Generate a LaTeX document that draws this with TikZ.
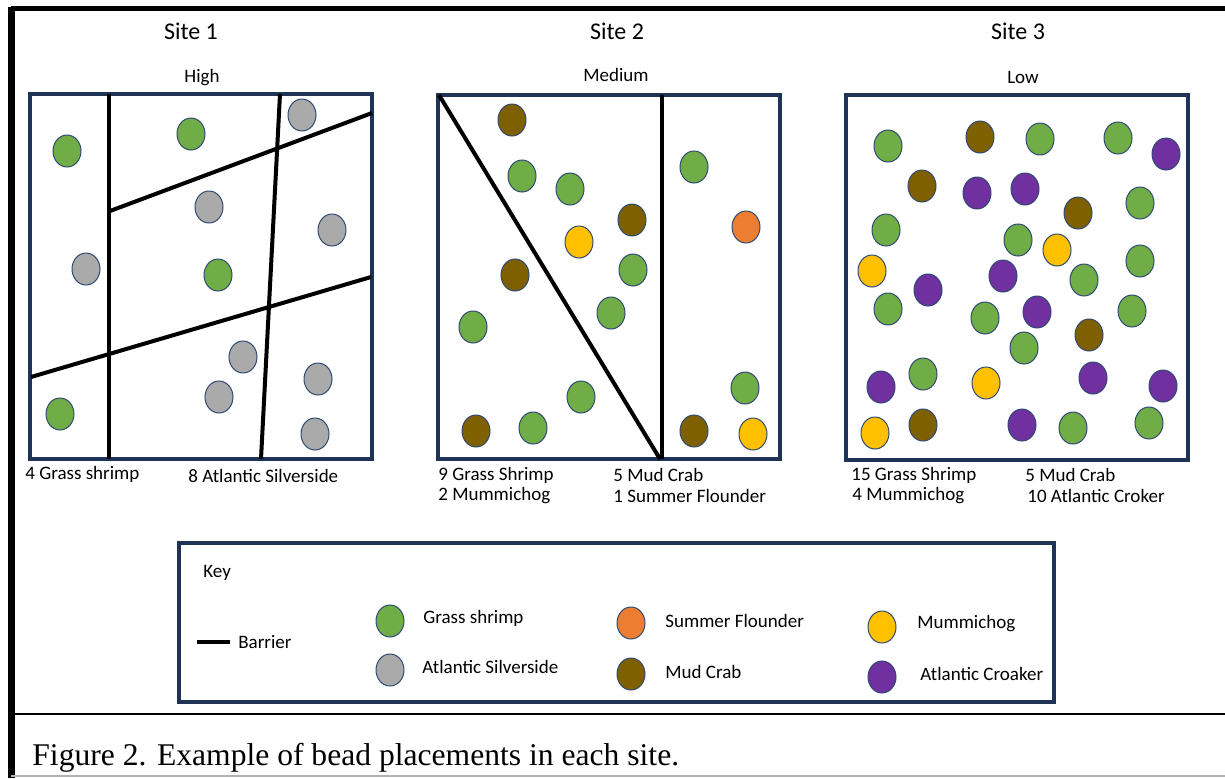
\documentclass[tikz,border=0pt]{standalone}
\usepackage{fontspec}
\setmainfont{Carlito}
\newfontfamily\capfont{Liberation Serif}
\usetikzlibrary{shapes.geometric}
\definecolor{navy}{HTML}{1F3356}
\definecolor{beadline}{HTML}{2F4A73}
\definecolor{grass}{HTML}{70AD47}
\definecolor{silverside}{HTML}{AAAAAA}
\definecolor{crab}{HTML}{7F6000}
\definecolor{flounder}{HTML}{ED7D31}
\definecolor{mummi}{HTML}{FFC000}
\definecolor{croaker}{HTML}{7030A0}

\begin{document}
\begin{tikzpicture}[x=0.5pt, y=-0.5pt,
  bead/.style={ellipse, draw=beadline, line width=0.5pt, minimum width=14pt, minimum height=16pt, inner sep=0pt},
  sitebox/.style={draw=navy, line width=1.6pt},
  keybox/.style={draw=navy, line width=2.2pt},
  barrier/.style={line width=2pt},
  sitename/.style={font=\fontsize{12}{14}\selectfont},
  grade/.style={font=\fontsize{9.5}{11}\selectfont},
  tally/.style={anchor=west, inner sep=0pt, font=\fontsize{9.5}{11}\selectfont},
  keytext/.style={anchor=west, inner sep=0pt, font=\fontsize{9.5}{11}\selectfont}]
  \useasboundingbox (0,0) rectangle (1225,778);
  \draw[line width=2.5pt] (11,8) -- (1225,8);
  \draw[line width=3.5pt] (11,6.75) -- (11,778);
  \draw[line width=1pt] (11,714) -- (1225,714);
  \draw[gray!60, line width=0.6pt] (11,776) -- (1225,776);
  \node[sitename] (site1) at (191,31) {Site 1};
  \node[sitename] (site2) at (617,31) {Site 2};
  \node[sitename] (site3) at (1018,31) {Site 3};
  \node[grade] (high) at (202,78) {High};
  \node[grade] (medium) at (616,75) {Medium};
  \node[grade] (low) at (1023,77) {Low};
  \draw[sitebox] (30,94) rectangle (372,459);
  \draw[sitebox] (438,95) rectangle (780,459);
  \draw[sitebox] (846,95) rectangle (1188,460);
  \draw[barrier] (109,94) -- (109,459);
  \draw[barrier] (280,94) -- (261,459);
  \draw[barrier] (110,211) -- (372,113);
  \draw[barrier] (31,377) -- (371,277);
  \draw[barrier] (439,95) -- (660,459);
  \draw[barrier] (662,95) -- (662,459);
  \foreach \x/\y [count=\i] in {67/151, 191/134, 218/275, 60/414}
    \node[bead, fill=grass] (s1g\i) at (\x,\y) {};
  \foreach \x/\y [count=\i] in {302/115, 209/207, 332/230, 86/269, 243/357, 219/397, 318/379, 315/434}
    \node[bead, fill=silverside] (s1s\i) at (\x,\y) {};
  \foreach \x/\y [count=\i] in {522/176, 570/189, 633/270, 611/313, 473/327, 581/397, 533/428, 694/167, 745/388}
    \node[bead, fill=grass] (s2g\i) at (\x,\y) {};
  \foreach \x/\y [count=\i] in {512/120, 632/220, 515/275, 476/431, 694/431}
    \node[bead, fill=crab] (s2c\i) at (\x,\y) {};
  \foreach \x/\y [count=\i] in {579/242, 753/434}
    \node[bead, fill=mummi] (s2m\i) at (\x,\y) {};
  \node[bead, fill=flounder] (s2f1) at (746,227) {};
  \foreach \x/\y [count=\i] in {888/146, 1040/139, 1118/138, 1140/203, 886/230, 1018/240, 1140/261, 1084/280,
      888/309, 985/318, 1132/311, 1024/348, 923/374, 1073/428, 1149/423}
    \node[bead, fill=grass] (s3g\i) at (\x,\y) {};
  \foreach \x/\y [count=\i] in {980/137, 922/186, 1078/213, 1089/335, 923/425}
    \node[bead, fill=crab] (s3c\i) at (\x,\y) {};
  \foreach \x/\y [count=\i] in {1166/154, 977/193, 1025/189, 1003/276, 928/290, 1037/312, 881/387, 1093/378, 1163/386, 1022/425}
    \node[bead, fill=croaker] (s3a\i) at (\x,\y) {};
  \foreach \x/\y [count=\i] in {1057/250, 872/271, 986/383, 875/433}
    \node[bead, fill=mummi] (s3m\i) at (\x,\y) {};
  \node[tally] (t1a) at (25,474) {4 Grass shrimp};
  \node[tally] (t1b) at (188,476) {8 Atlantic Silverside};
  \node[tally] (t2a) at (438,475) {9 Grass Shrimp};
  \node[tally] (t2b) at (438,496) {2 Mummichog};
  \node[tally] (t2c) at (613,475) {5 Mud Crab};
  \node[tally] (t2d) at (613,496) {1 Summer Flounder};
  \node[tally] (t3a) at (851,475) {15 Grass Shrimp};
  \node[tally] (t3b) at (852,496) {4 Mummichog};
  \node[tally] (t3c) at (1025,475) {5 Mud Crab};
  \node[tally] (t3d) at (1027,496) {10 Atlantic Croker};
  \draw[keybox] (179,543) rectangle (1054,702);
  \node[keytext] (key) at (203,573) {Key};
  \draw[barrier] (197,642) -- (230,642);
  \node[keytext] (kbar) at (238,642) {Barrier};
  \node[bead, fill=grass] (kg) at (390,621) {};
  \node[keytext] (kgl) at (423,618) {Grass shrimp};
  \node[bead, fill=silverside] (ks) at (390,670) {};
  \node[keytext] (ksl) at (422,667) {Atlantic Silverside};
  \node[bead, fill=flounder] (kf) at (631,623) {};
  \node[keytext] (kfl) at (665,621) {Summer Flounder};
  \node[bead, fill=crab] (kc) at (631,674) {};
  \node[keytext] (kcl) at (665,672) {Mud Crab};
  \node[bead, fill=mummi] (km) at (882,627) {};
  \node[keytext] (kml) at (917,624) {Mummichog};
  \node[bead, fill=croaker] (ka) at (882,677) {};
  \node[keytext] (kal) at (920,674) {Atlantic Croaker};
  \node[anchor=base west, inner sep=0pt, font=\capfont\fontsize{15.8}{18}\selectfont] (caption) at (32,765) {Figure 2. Example of bead placements in each site.};
\end{tikzpicture}
\end{document}
